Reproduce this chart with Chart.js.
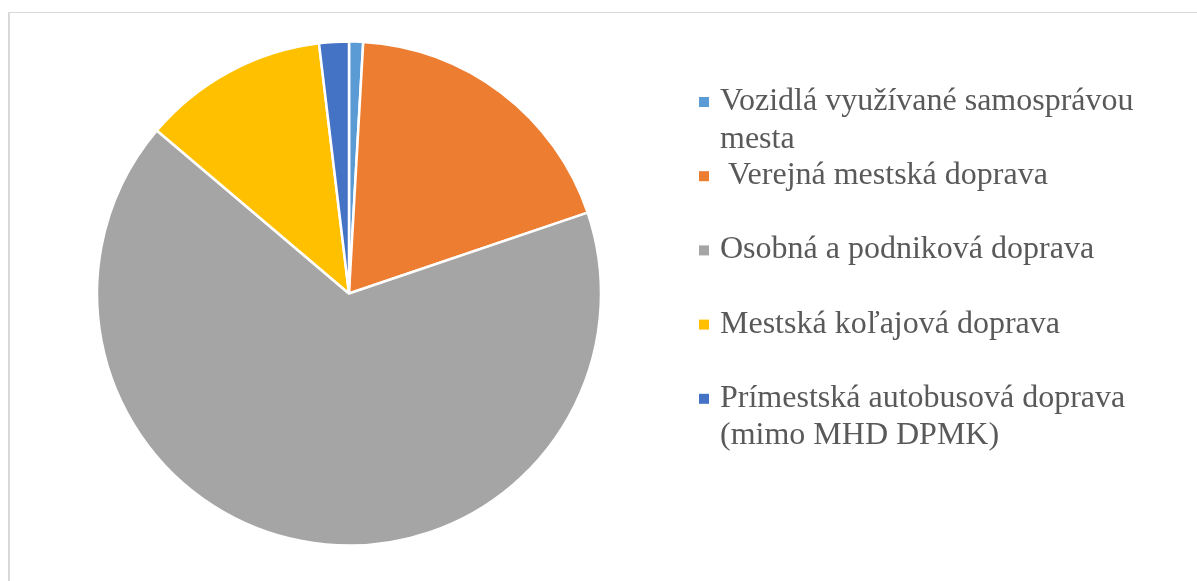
<!DOCTYPE html>
<html>
<head>
<meta charset="utf-8">
<script src="https://cdn.jsdelivr.net/npm/chart.js@4.4.0/dist/chart.umd.min.js"></script>
<style>
html,body{margin:0;padding:0;background:#fff;}
#wrap{position:relative;width:1197px;height:581px;overflow:hidden;}
#frame{position:absolute;left:8px;top:12px;width:1300px;height:700px;border-top:1px solid #d9d9d9;border-left:2px solid #d9d9d9;}
canvas{position:absolute;left:0;top:0;}
</style>
</head>
<body>
<div id="wrap">
  <div id="frame"></div>
  <canvas id="c" width="1197" height="581"></canvas>
</div>
<script>
// Data
const categories = [
  'Vozidlá využívané samosprávou mesta',
  ' Verejná mestská doprava',
  'Osobná a podniková doprava',
  'Mestská koľajová doprava',
  'Prímestská autobusová doprava (mimo MHD DPMK)'
];
const shares = [0.9, 18.9, 66.4, 11.9, 1.9];
const sliceColors = ['#5B9BD5', '#ED7D31', '#A5A5A5', '#FFC000', '#4472C4'];

// Legend drawn on the canvas (wrapped text, Excel-like)
const sideLegend = {
  id: 'sideLegend',
  afterDraw(chart) {
    const ctx = chart.ctx;
    const labels = chart.data.labels;
    const ds = chart.data.datasets[0];
    const markerX = 699, textX = 720, maxW = 430;
    const firstBaseline = 110, pitch = 74.2, lineH = 37.5;
    ctx.save();
    ctx.font = '32px "Liberation Serif", "Times New Roman", serif';
    ctx.textBaseline = 'alphabetic';
    ctx.textAlign = 'left';
    labels.forEach((lab, i) => {
      // wrap
      const words = lab.split(' ');
      const lines = [];
      let cur = '';
      words.forEach((w, k) => {
        const test = k === 0 ? w : cur + ' ' + w;
        if (k > 0 && ctx.measureText(test).width > maxW && cur.trim() !== '') {
          lines.push(cur);
          cur = w;
        } else {
          cur = test;
        }
      });
      lines.push(cur);
      const base = firstBaseline + pitch * i;
      ctx.fillStyle = ds.backgroundColor[i];
      ctx.fillRect(markerX, base - 13, 10, 10);
      ctx.fillStyle = '#595959';
      lines.forEach((ln, j) => ctx.fillText(ln, textX, base + j * lineH));
    });
    ctx.restore();
  }
};

new Chart(document.getElementById('c'), {
  type: 'pie',
  data: {
    labels: categories,
    datasets: [{
      data: shares,
      backgroundColor: sliceColors,
      borderColor: '#ffffff',
      borderWidth: 2.5,
      radius: 252
    }]
  },
  options: {
    responsive: false,
    animation: false,
    layout: { padding: { left: 95, right: 594, top: 40, bottom: 34 } },
    plugins: {
      legend: { display: false },
      tooltip: { enabled: false }
    }
  },
  plugins: [sideLegend]
});
</script>
</body>
</html>
